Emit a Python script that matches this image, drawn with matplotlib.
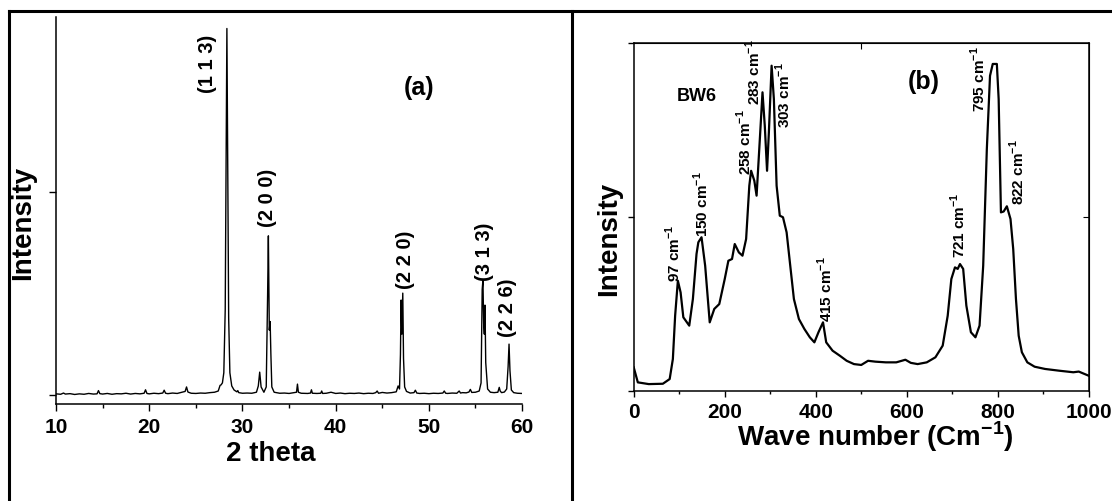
import matplotlib
matplotlib.use("Agg")
import matplotlib.pyplot as plt
from matplotlib.lines import Line2D
from matplotlib.ticker import MultipleLocator, NullFormatter

plt.rcParams['font.family'] = ['Liberation Sans', 'DejaVu Sans']
plt.rcParams['font.weight'] = 'bold'
plt.rcParams['mathtext.fontset'] = 'custom'
plt.rcParams['mathtext.rm'] = 'Liberation Sans:bold'
plt.rcParams['mathtext.bf'] = 'Liberation Sans:bold'

# ---- (a) XRD pattern ----
two_theta = [10.0, 10.5, 10.8, 11.0, 11.5, 12.0, 12.5, 13.0, 13.5, 14.0,
             14.4, 14.55, 14.7, 15.0, 15.5, 16.0, 16.5, 17.0, 17.5, 18.0,
             18.5, 19.0, 19.45, 19.6, 19.75, 20.0, 20.5, 21.0, 21.45, 21.6,
             21.75, 22.0, 22.5, 23.0, 23.5, 23.85, 24.0, 24.15, 24.5, 25.0,
             25.5, 26.0, 26.5, 27.0, 27.4, 27.6, 27.7, 27.85, 28.0, 28.15,
             28.25, 28.33, 28.42, 28.52, 28.65, 28.85, 29.1, 29.4, 29.5, 29.6,
             30.0, 30.5, 31.0, 31.5, 31.7, 31.85, 32.0, 32.3, 32.55, 32.7,
             32.78, 32.88, 32.97, 33.05, 33.15, 33.4, 34.0, 34.5, 35.0, 35.5,
             35.8, 35.9, 36.0, 36.3, 37.0, 37.3, 37.4, 37.5, 38.0, 38.4,
             38.5, 38.6, 39.0, 39.5, 40.0, 40.5, 41.0, 41.5, 42.0, 42.5,
             43.0, 43.5, 44.0, 44.3, 44.45, 44.6, 45.0, 45.5, 46.0, 46.5,
             46.7, 46.85, 46.95, 47.02, 47.1, 47.2, 47.28, 47.4, 47.6, 48.0,
             48.4, 48.55, 48.7, 49.0, 49.5, 50.0, 50.5, 51.0, 51.5, 51.65,
             51.8, 52.0, 52.5, 53.0, 53.25, 53.4, 53.6, 54.0, 54.3, 54.45,
             54.6, 55.0, 55.4, 55.6, 55.72, 55.8, 55.88, 55.95, 56.02, 56.1,
             56.3, 56.6, 57.0, 57.4, 57.55, 57.65, 57.8, 58.1, 58.35, 58.5,
             58.6, 58.7, 58.85, 59.1, 59.5, 60.0]
counts = [6, 4, 10, 5, 7, 3, 6, 4, 8, 5,
          6, 22, 7, 5, 8, 4, 7, 6, 9, 5,
          8, 6, 9, 26, 8, 6, 9, 7, 10, 24,
          9, 7, 10, 8, 14, 18, 40, 15, 9, 8,
          10, 9, 12, 14, 20, 48, 50, 60, 110, 420,
          1200, 1805, 1100, 380, 110, 45, 25, 16, 22, 12,
          9, 10, 9, 14, 45, 113, 40, 14, 40, 500,
          784, 320, 362, 200, 40, 14, 9, 10, 8, 12,
          14, 54, 14, 9, 8, 10, 26, 9, 8, 9,
          20, 8, 9, 14, 8, 10, 7, 9, 8, 10,
          7, 9, 8, 12, 20, 9, 13, 10, 12, 16,
          45, 30, 200, 468, 300, 502, 180, 40, 18, 10,
          12, 24, 10, 8, 9, 7, 9, 8, 10, 20,
          9, 8, 10, 9, 20, 10, 12, 11, 15, 28,
          13, 14, 20, 60, 520, 566, 350, 300, 443, 160,
          30, 14, 12, 14, 38, 20, 12, 15, 30, 140,
          251, 120, 25, 12, 9, 8]

hkl_labels = ['(1 1 3)', '(2 0 0)', '(2 2 0)', '(3 1 3)', '(2 2 6)']
hkl_x = [26.2, 32.64, 47.48, 55.92, 58.48]
hkl_y = [1490, 833, 527, 566, 292]

# ---- (b) Raman spectrum ----
wavenumber = [0, 9, 33, 64, 79, 86, 91, 97, 103, 109,
              122, 130, 138, 142, 149, 157, 167, 177, 188, 200,
              208, 216, 222, 231, 239, 247, 254, 258, 265, 270,
              278, 283, 288, 293, 297, 303, 308, 314, 321, 328,
              336, 344, 352, 363, 375, 387, 397, 406, 416, 423,
              437, 453, 468, 484, 500, 515, 531, 554, 577, 597,
              609, 624, 644, 663, 679, 690, 698, 706, 712, 717,
              724, 731, 741, 751, 760, 768, 776, 783, 789, 798,
              802, 807, 813, 820, 828, 834, 840, 846, 853, 865,
              881, 904, 935, 966, 978, 1000]
raman = [134, 48, 38, 40, 67, 182, 431, 632, 565, 422,
         374, 527, 786, 853, 882, 718, 393, 470, 498, 642,
         747, 757, 843, 795, 776, 872, 1178, 1264, 1207, 1121,
         1485, 1715, 1523, 1264, 1485, 1868, 1676, 1178, 1006, 997,
         910, 718, 527, 412, 355, 307, 278, 336, 393, 278,
         230, 201, 172, 153, 148, 172, 167, 163, 163, 178,
         160, 153, 163, 192, 259, 431, 642, 709, 700, 728,
         700, 489, 336, 307, 374, 718, 1389, 1810, 1878, 1878,
         1676, 1025, 1030, 1060, 987, 814, 527, 316, 221, 163,
         138, 125, 115, 106, 110, 86]

band_labels = ['97', '150', '258', '283', '303', '415', '721', '795', '822']
band_x = [87, 149, 243, 262, 328, 422, 714, 757, 842]
band_y = [632, 891, 1245, 1648, 1515, 402, 768, 1609, 1073]

fig = plt.figure(figsize=(11.12, 5.02), dpi=100)

# table-like frame around the two panels
top = 1 - 12 / 502
fig.add_artist(Line2D([8.7 / 1112, 8.7 / 1112], [0, top], color='k', lw=2.2))
fig.add_artist(Line2D([8.7 / 1112, 1], [top, top], color='k', lw=2.2))
fig.add_artist(Line2D([572 / 1112, 572 / 1112], [0, top], color='k', lw=2.2))

# ---------------- panel (a) ----------------
ax1 = fig.add_axes([0.0504, 0.1932, 0.4191, 0.7719])
ax1.plot(two_theta, counts, color='k', lw=1.0)
ax1.set_xlim(10, 60)
ax1.set_ylim(-44, 1864)
ax1.spines['top'].set_visible(False)
ax1.spines['right'].set_visible(False)
for s in ['left', 'bottom']:
    ax1.spines[s].set_linewidth(1.1)
ax1.xaxis.set_major_locator(MultipleLocator(10))
ax1.xaxis.set_minor_locator(MultipleLocator(5))
ax1.set_yticks([0, 1000])
ax1.yaxis.set_major_formatter(NullFormatter())
ax1.tick_params(axis='both', which='major', direction='out', length=5, width=1.0,
                labelsize=15, pad=4)
ax1.tick_params(axis='x', which='minor', direction='out', length=2.6, width=1.0)
ax1.set_xlabel('2 theta', fontsize=20, fontweight='bold')
ax1.xaxis.set_label_coords(0.46, -0.092)
ax1.set_ylabel('Intensity', fontsize=20, fontweight='bold')
ax1.yaxis.set_label_coords(-0.043, 0.47)
for lab, x, y in zip(hkl_labels, hkl_x, hkl_y):
    ax1.text(x, y, lab, rotation=90, ha='center', va='bottom', fontsize=14.5,
             fontweight='bold')
ax1.text(49.0, 1517, '(a)', ha='center', va='center', fontsize=18, fontweight='bold')

# ---------------- panel (b) ----------------
ax2 = fig.add_axes([0.5699, 0.2197, 0.4092, 0.6932])
ax2.plot(wavenumber, raman, color='k', lw=1.6)
ax2.set_xlim(0, 1000)
ax2.set_ylim(0, 2000)
for s in ax2.spines.values():
    s.set_linewidth(1.1)
ax2.xaxis.set_major_locator(MultipleLocator(200))
ax2.xaxis.set_minor_locator(MultipleLocator(100))
ax2.set_yticks([0, 1000, 2000])
ax2.yaxis.set_major_formatter(NullFormatter())
ax2.tick_params(axis='both', which='major', direction='out', length=4, width=1.0,
                labelsize=15, pad=4)
ax2.tick_params(axis='x', which='minor', direction='out', length=2.5, width=1.0)
top_ax = ax2.secondary_xaxis('top')
top_ax.set_xticks([500])
top_ax.tick_params(direction='in', length=4, labeltop=False)
right_ax = ax2.secondary_yaxis('right')
right_ax.set_yticks([1000])
right_ax.tick_params(direction='in', length=4, labelright=False)
ax2.set_xlabel(r'Wave number (Cm$^{\mathbf{-1}}$)', fontsize=20, fontweight='bold')
ax2.xaxis.set_label_coords(0.53, -0.081)
ax2.set_ylabel('Intensity', fontsize=20, fontweight='bold')
ax2.yaxis.set_label_coords(-0.026, 0.44)
for lab, x, y in zip(band_labels, band_x, band_y):
    ax2.text(x, y, lab + r' cm$^{\mathbf{-1}}$', rotation=90, ha='center', va='bottom',
             fontsize=11, fontweight='bold')
ax2.text(139, 1695, 'BW6', ha='center', va='center', fontsize=13, fontweight='bold')
ax2.text(637, 1782, '(b)', ha='center', va='center', fontsize=18, fontweight='bold')

fig.savefig('out.png', dpi=100)
